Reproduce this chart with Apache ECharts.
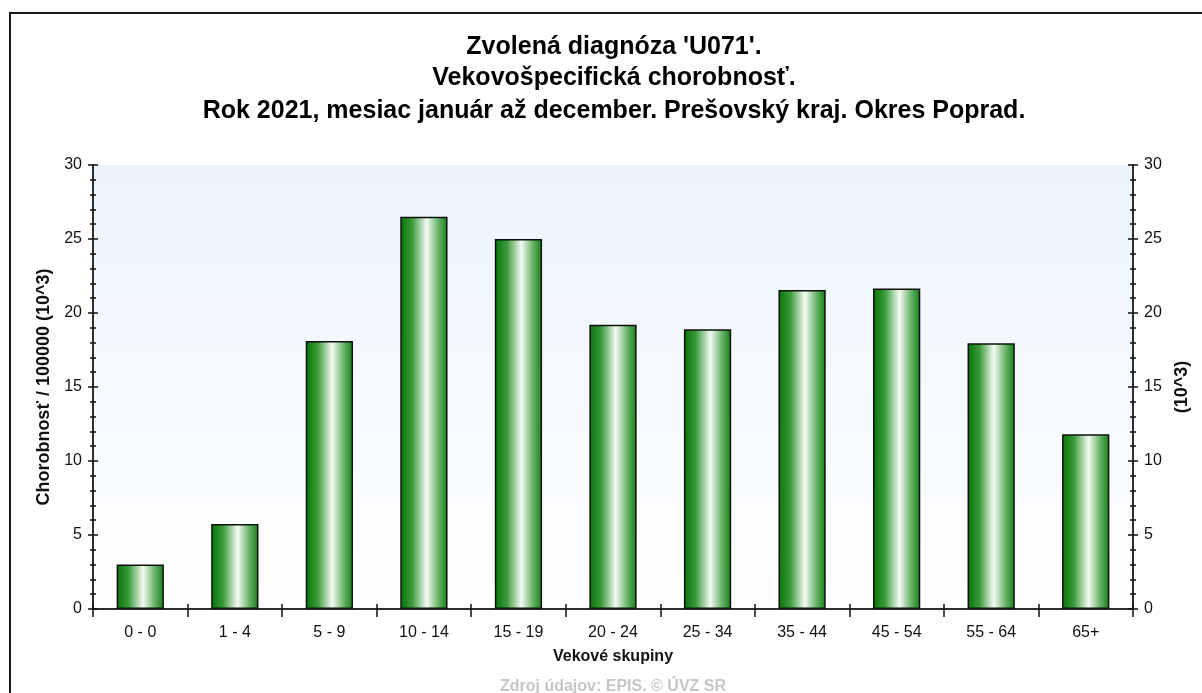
<!DOCTYPE html>
<html>
<head>
<meta charset="utf-8">
<title>Vekovošpecifická chorobnosť</title>
<script src="https://cdn.jsdelivr.net/npm/echarts@6/dist/echarts.min.js"></script>
<style>
  html, body { margin: 0; padding: 0; background: #ffffff; }
  #chart { width: 1202px; height: 693px; }
</style>
</head>
<body>
<div id="chart"></div>
<script>
// Age groups and morbidity per 100 000 (in thousands)
const ageGroups = ['0 - 0', '1 - 4', '5 - 9', '10 - 14', '15 - 19', '20 - 24', '25 - 34', '35 - 44', '45 - 54', '55 - 64', '65+'];
const morbidity = [3.0, 5.75, 18.1, 26.5, 25.0, 19.2, 18.9, 21.55, 21.65, 17.95, 11.8];
const titleLines = [
  "Zvolená diagnóza 'U071'.",
  'Vekovošpecifická chorobnosť.',
  'Rok 2021, mesiac január až december. Prešovský kraj. Okres Poprad.'
];
const yAxisName = 'Chorobnosť / 100000 (10^3)';
const yAxisNameRight = '(10^3)';
const xAxisName = 'Vekové skupiny';
const sourceNote = 'Zdroj údajov: EPIS. © ÚVZ SR';
const yMin = 0, yMax = 30, yStep = 5;

const FONT = '"Liberation Sans", Arial, sans-serif';
const INK = '#111111';

const chart = echarts.init(document.getElementById('chart'), null, { renderer: 'canvas' });

const lineStyle = { color: '#222222', width: 1.5 };

// value axis factory: one copy draws outward ticks + labels, one copy draws inward ticks
function valueAxis(position, inside, extra) {
  return Object.assign({
    type: 'value',
    position: position,
    min: yMin,
    max: yMax,
    interval: yStep,
    axisLine: { show: true, lineStyle: lineStyle },
    axisTick: { show: true, inside: inside, length: 5, lineStyle: { color: '#111', width: 1.5 } },
    minorTick: { show: true, splitNumber: 5, length: 3, lineStyle: { color: '#111', width: 1.5 } },
    splitLine: { show: false },
    axisLabel: { show: !inside, fontFamily: FONT, fontSize: 16, color: INK, margin: 11 }
  }, extra || {});
}

const titleTops = [47, 78, 111];

const option = {
  animation: false,
  backgroundColor: '#ffffff',
  grid: {
    left: 93, right: 69, top: 165, bottom: 84,
    show: true,
    borderWidth: 0,
    backgroundColor: new echarts.graphic.LinearGradient(0, 0, 0, 1, [
      { offset: 0, color: '#ebf4fd' },
      { offset: 1, color: '#ffffff' }
    ])
  },
  graphic: [
    {
      type: 'rect',
      silent: true,
      shape: { x: 10, y: 13, width: 1240, height: 740 },
      style: { fill: null, stroke: '#1a1a1a', lineWidth: 2 }
    },
    ...titleLines.map((t, i) => ({
      type: 'text',
      x: 614,
      y: titleTops[i],
      style: {
        text: t,
        font: 'bold 25px ' + FONT,
        fill: '#000000',
        textAlign: 'center',
        textVerticalAlign: 'middle'
      }
    })),
    {
      type: 'text',
      x: 613,
      y: 679,
      style: {
        text: sourceNote,
        font: 'bold 16px ' + FONT,
        fill: '#c6c6c6',
        textAlign: 'center',
        textVerticalAlign: 'top'
      }
    }
  ],
  xAxis: [
    {
      type: 'category',
      data: ageGroups,
      position: 'bottom',
      boundaryGap: true,
      axisLine: { show: true, lineStyle: lineStyle },
      axisTick: { show: true, length: 8, lineStyle: { color: '#111', width: 1.5 } },
      axisLabel: { fontFamily: FONT, fontSize: 16, color: INK, margin: 16 },
      name: xAxisName,
      nameLocation: 'middle',
      nameGap: 40,
      nameTextStyle: { fontFamily: FONT, fontSize: 16, fontWeight: 'bold', color: INK }
    },
    {
      type: 'category',
      data: ageGroups,
      position: 'bottom',
      boundaryGap: true,
      axisLine: { show: false },
      axisTick: { show: true, inside: true, length: 5, lineStyle: { color: '#111', width: 1.5 } },
      axisLabel: { show: false }
    },
    {
      type: 'category',
      data: ageGroups,
      position: 'top',
      boundaryGap: true,
      axisLine: { show: true, lineStyle: lineStyle },
      axisTick: { show: true, inside: true, length: 7, lineStyle: { color: '#111', width: 1.5 } },
      axisLabel: { show: false }
    }
  ],
  yAxis: [
    valueAxis('left', false, {
      name: yAxisName,
      nameLocation: 'middle',
      nameGap: 36,
      nameRotate: 90,
      nameTextStyle: { fontFamily: FONT, fontSize: 18, fontWeight: 'bold', color: INK }
    }),
    valueAxis('left', true),
    valueAxis('right', false, {
      name: yAxisNameRight,
      nameLocation: 'middle',
      nameGap: 40,
      nameRotate: 90,
      nameTextStyle: { fontFamily: FONT, fontSize: 18, fontWeight: 'bold', color: INK }
    }),
    valueAxis('right', true)
  ],
  series: [
    {
      type: 'bar',
      xAxisIndex: 0,
      yAxisIndex: 0,
      data: morbidity,
      barWidth: '50%',
      itemStyle: {
        borderColor: '#111111',
        borderWidth: 1.5,
        color: new echarts.graphic.LinearGradient(0, 0, 1, 0, [
          { offset: 0, color: '#067406' },
          { offset: 0.25, color: '#3a9a3a' },
          { offset: 0.56, color: '#f4fbf4' },
          { offset: 0.8, color: '#6ab46a' },
          { offset: 1, color: '#147f14' }
        ])
      }
    }
  ]
};

chart.setOption(option);
</script>
</body>
</html>
